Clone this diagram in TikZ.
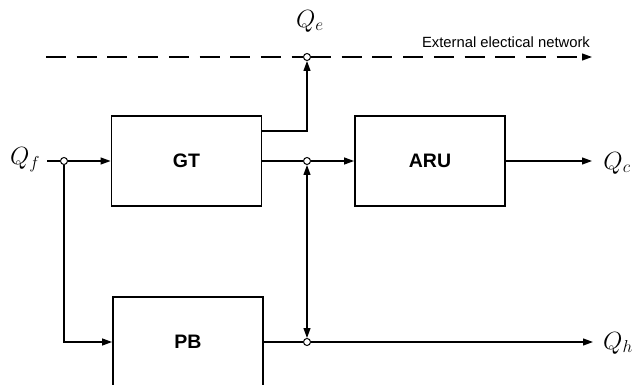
\documentclass[tikz,border=0pt]{standalone}
\usepackage{fontspec}
\setmainfont{Liberation Sans}
\usetikzlibrary{arrows.meta,calc}
\begin{document}
\begin{tikzpicture}[x=1pt,y=-1pt,
  block/.style={draw,line width=1.9pt,minimum width=150pt,minimum height=90pt,inner sep=0pt,
    font=\fontsize{19.5}{22}\selectfont\bfseries},
  junc/.style={circle,draw,fill=white,line width=1pt,minimum size=7pt,inner sep=0pt},
  conn/.style={line width=1.2pt},
  tip/.tip={Triangle[length=10pt,width=7pt]},
  arr/.style={conn,-tip},
  arrboth/.style={conn,tip-tip},
  netline/.style={conn,dash pattern=on 20pt off 10.7pt},
  qlabel/.style={inner sep=0pt,font=\fontsize{24}{26}\selectfont}
]
\useasboundingbox (0,0) rectangle (638,385);
% blocks
\node[block] (gt) at (186.5,161) {GT};
\node[block] (aru) at (430,161) {ARU};
\node[block] (pb) at (188,342) {PB};
% junctions
\node[junc] (jf) at (64,161) {};
\node[junc] (jt) at (307,161) {};
\node[junc] (jb) at (307,342) {};
\node[junc] (je) at (307,57) {};
% free ends
\coordinate (fin) at (47,161);
\coordinate (dstart) at (46,57);
\coordinate (dend) at (592,57);
\coordinate (qcend) at (592,161);
\coordinate (qhend) at (593,342);
% labels
\node[qlabel] (qf) at (25,160) {$Q_f$};
\node[qlabel] (qe) at (310,21) {$Q_e$};
\node[qlabel] (qc) at (617,163) {$Q_c$};
\node[qlabel] (qh) at (618,343) {$Q_h$};
\node[inner sep=0pt,font=\fontsize{14.8}{17}\selectfont] (net) at (506,42) {External electical network};
% connectors
\draw[netline] (dstart) -- (je);
\draw[netline,-tip] (je) -- (dend);
\draw[conn] (fin) -- (jf);
\draw[arr] (jf) -- (gt.west);
\draw[arr] (jf) |- (pb.west);
\draw[arr] ([yshift=30pt]gt.east) -| (je);
\draw[conn] (gt.east) -- (jt);
\draw[arr] (jt) -- (aru.west);
\draw[arr] (aru.east) -- (qcend);
\draw[arrboth] (jt) -- (jb);
\draw[conn] (pb.east) -- (jb);
\draw[arr] (jb) -- (qhend);
\end{tikzpicture}
\end{document}
